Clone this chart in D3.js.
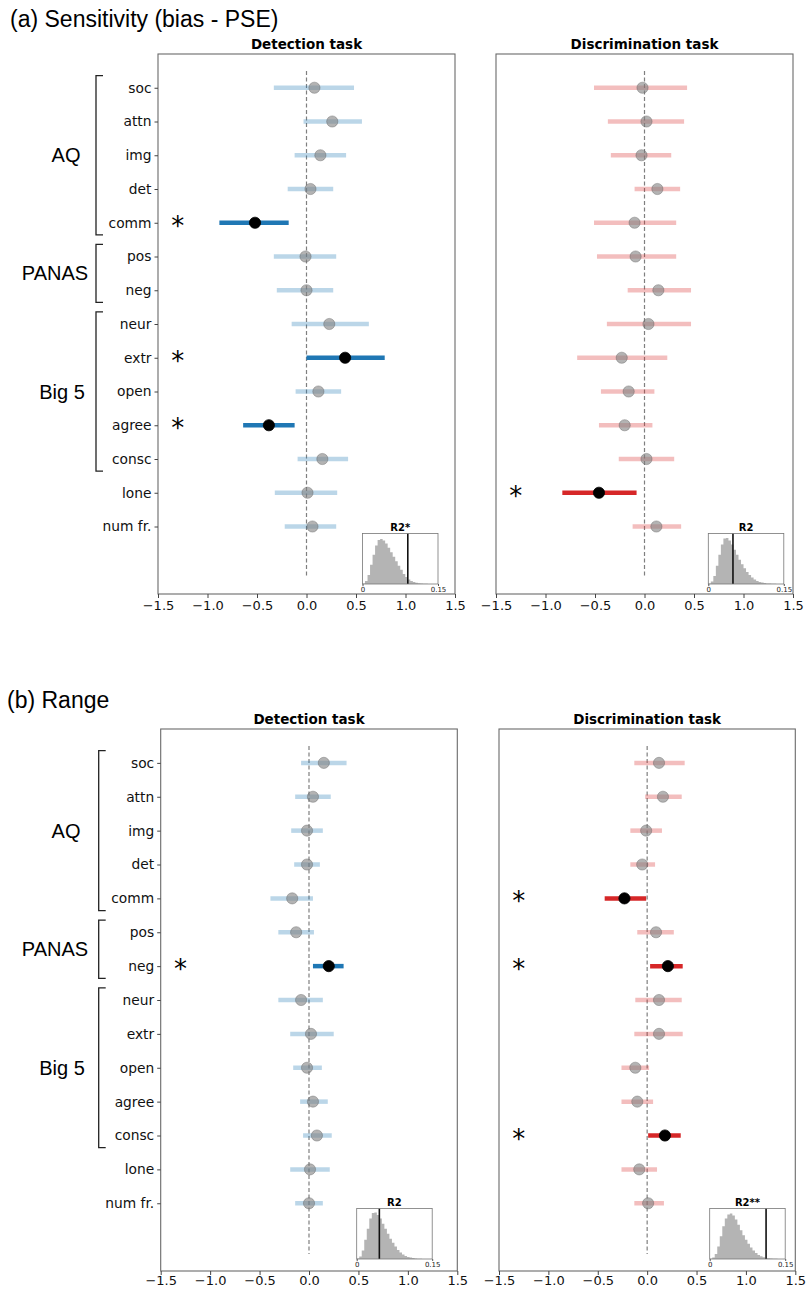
<!DOCTYPE html>
<html>
<head>
<meta charset="utf-8">
<script src="https://cdn.jsdelivr.net/npm/d3@7"></script>
<style>
  body { margin: 0; background: #fff; }
  svg { display: block; }
</style>
</head>
<body>
<svg id="chart" width="811" height="1289"></svg>
<script>
// ---- data ----
var traits = ["soc", "attn", "img", "det", "comm", "pos", "neg", "neur", "extr", "open", "agree", "consc", "lone", "num fr."];

var groupNames = ["AQ", "PANAS", "Big 5"];
var groupFirst = [0, 5, 7];
var groupLast = [4, 6, 11];

var xTicks = [-1.5, -1.0, -0.5, 0.0, 0.5, 1.0, 1.5];

// (a) sensitivity, detection task
var detA_est = [0.08, 0.26, 0.14, 0.04, -0.52, -0.01, 0.00, 0.23, 0.39, 0.12, -0.38, 0.16, 0.01, 0.06];
var detA_lo  = [-0.33, -0.03, -0.12, -0.19, -0.88, -0.33, -0.30, -0.15, 0.00, -0.11, -0.64, -0.09, -0.32, -0.22];
var detA_hi  = [0.48, 0.56, 0.40, 0.27, -0.18, 0.30, 0.27, 0.63, 0.79, 0.35, -0.12, 0.42, 0.31, 0.30];
var detA_sig = [0, 0, 0, 0, 1, 0, 0, 0, 1, 0, 1, 0, 0, 0];

// (a) sensitivity, discrimination task
var disA_est = [-0.02, 0.02, -0.03, 0.13, -0.10, -0.09, 0.14, 0.04, -0.23, -0.16, -0.20, 0.02, -0.46, 0.12];
var disA_lo  = [-0.51, -0.37, -0.34, -0.10, -0.51, -0.48, -0.17, -0.38, -0.68, -0.44, -0.46, -0.26, -0.83, -0.12];
var disA_hi  = [0.43, 0.40, 0.27, 0.36, 0.32, 0.32, 0.47, 0.47, 0.23, 0.10, 0.08, 0.30, -0.08, 0.37];
var disA_sig = [0, 0, 0, 0, 0, 0, 0, 0, 0, 0, 0, 0, 1, 0];

// (b) range, detection task
var detB_est = [0.15, 0.04, -0.02, -0.02, -0.17, -0.13, 0.20, -0.08, 0.02, -0.02, 0.04, 0.08, 0.01, 0.00];
var detB_lo  = [-0.08, -0.14, -0.18, -0.15, -0.39, -0.31, 0.04, -0.31, -0.19, -0.16, -0.09, -0.06, -0.19, -0.14];
var detB_hi  = [0.38, 0.22, 0.14, 0.11, 0.04, 0.05, 0.35, 0.14, 0.25, 0.13, 0.19, 0.23, 0.21, 0.14];
var detB_sig = [0, 0, 0, 0, 0, 0, 1, 0, 0, 0, 0, 0, 0, 0];

// (b) range, discrimination task
var disB_est = [0.12, 0.16, -0.01, -0.05, -0.23, 0.09, 0.21, 0.12, 0.12, -0.12, -0.10, 0.18, -0.08, 0.01];
var disB_lo  = [-0.13, -0.02, -0.17, -0.17, -0.43, -0.10, 0.03, -0.12, -0.13, -0.26, -0.26, 0.01, -0.26, -0.13];
var disB_hi  = [0.38, 0.35, 0.15, 0.08, -0.01, 0.27, 0.36, 0.35, 0.36, 0.02, 0.06, 0.34, 0.10, 0.17];
var disB_sig = [0, 0, 0, 0, 1, 0, 1, 0, 0, 0, 0, 1, 0, 0];

// R2 permutation histograms (30 bins over 0 - 0.15, relative height) and observed R2
var histEdges = [0, 0.15];
var histA_det = [0.01, 0.06, 0.18, 0.38, 0.58, 0.76, 0.87, 0.89, 0.86, 0.80, 0.72, 0.63, 0.54, 0.45, 0.36, 0.28, 0.20, 0.14, 0.09, 0.06, 0.04, 0.025, 0.015, 0.01, 0.006, 0.004, 0.002, 0.001, 0, 0];
var histA_dis = [0.01, 0.05, 0.16, 0.36, 0.58, 0.78, 0.90, 0.91, 0.86, 0.78, 0.68, 0.58, 0.48, 0.39, 0.31, 0.24, 0.18, 0.13, 0.09, 0.06, 0.04, 0.03, 0.02, 0.012, 0.008, 0.005, 0.003, 0.002, 0.001, 0];
var histB_det = [0.01, 0.05, 0.17, 0.38, 0.60, 0.80, 0.91, 0.92, 0.87, 0.80, 0.70, 0.60, 0.50, 0.40, 0.32, 0.25, 0.18, 0.13, 0.09, 0.06, 0.04, 0.028, 0.018, 0.012, 0.007, 0.004, 0.002, 0.001, 0, 0];
var histB_dis = [0.005, 0.03, 0.10, 0.25, 0.45, 0.65, 0.80, 0.88, 0.90, 0.86, 0.78, 0.68, 0.57, 0.47, 0.38, 0.30, 0.23, 0.17, 0.12, 0.08, 0.055, 0.035, 0.022, 0.013, 0.008, 0.005, 0.003, 0.001, 0, 0];
var r2Obs = [0.090, 0.049, 0.045, 0.112];
var r2Titles = ["R2*", "R2", "R2", "R2**"];

var panelTitles = ["Detection task", "Discrimination task", "Detection task", "Discrimination task"];
var figTitles = ["(a) Sensitivity (bias - PSE)", "(b) Range"];

// ---- layout ----
var BLUE = "#1f77b4", RED = "#d62728";
var svg = d3.select("#chart");

var panels = [
  {left: 158, right: 455, top: 54, bottom: 594, insetX: 362.5, insetY: 533.5, color: BLUE, pad: 3,
   est: detA_est, lo: detA_lo, hi: detA_hi, sig: detA_sig, hist: histA_det, groups: true},
  {left: 496, right: 793, top: 54, bottom: 594, insetX: 708.3, insetY: 533.5, color: RED, pad: 3,
   est: disA_est, lo: disA_lo, hi: disA_hi, sig: disA_sig, hist: histA_dis, groups: false},
  {left: 160.7, right: 457.3, top: 729, bottom: 1271, insetX: 356.7, insetY: 1208.5, color: BLUE, pad: 0.5,
   est: detB_est, lo: detB_lo, hi: detB_hi, sig: detB_sig, hist: histB_det, groups: true},
  {left: 499, right: 795.3, top: 729, bottom: 1271, insetX: 709.7, insetY: 1208.5, color: RED, pad: 0.5,
   est: disB_est, lo: disB_lo, hi: disB_hi, sig: disB_sig, hist: histB_dis, groups: false}
];

// figure titles
svg.append("text").attr("x", 10).attr("y", 27)
  .attr("font-family", "Liberation Sans, Arial, sans-serif").attr("font-size", 23)
  .text(figTitles[0]);
svg.append("text").attr("x", 7).attr("y", 708)
  .attr("font-family", "Liberation Sans, Arial, sans-serif").attr("font-size", 23)
  .text(figTitles[1]);

function drawPanel(p, k) {
  var x = d3.scaleLinear().domain([-1.5, 1.5]).range([p.left, p.right]);
  var y = d3.scaleLinear().domain([-1, 15]).range([p.top, p.bottom]);
  var rows = d3.range(traits.length);

  var g = svg.append("g");

  // title
  g.append("text")
    .attr("x", (p.left + p.right) / 2).attr("y", p.top - 5)
    .attr("text-anchor", "middle")
    .attr("font-family", "DejaVu Sans, sans-serif").attr("font-weight", "bold").attr("font-size", 13.5)
    .text(panelTitles[k]);

  // zero line
  g.append("line")
    .attr("x1", x(0)).attr("x2", x(0))
    .attr("y1", y(-0.5)).attr("y2", y(14.5))
    .attr("stroke", "#7f7f7f").attr("stroke-width", 1.2)
    .attr("stroke-dasharray", "4,2.5");

  // intervals
  g.selectAll(".ci").data(rows).enter().append("line")
    .attr("x1", function (i) { return x(p.lo[i]); })
    .attr("x2", function (i) { return x(p.hi[i]); })
    .attr("y1", function (i) { return y(i); })
    .attr("y2", function (i) { return y(i); })
    .attr("stroke", p.color)
    .attr("stroke-opacity", function (i) { return p.sig[i] ? 1 : 0.3; })
    .attr("stroke-width", 4.5);

  // point estimates
  g.selectAll(".pt").data(rows).enter().append("circle")
    .attr("cx", function (i) { return x(p.est[i]); })
    .attr("cy", function (i) { return y(i); })
    .attr("r", 5.6)
    .attr("fill", function (i) { return p.sig[i] ? "#000" : "#808080"; })
    .attr("fill-opacity", function (i) { return p.sig[i] ? 1 : 0.6; })
    .attr("stroke", function (i) { return p.sig[i] ? "#000" : "#606060"; })
    .attr("stroke-opacity", function (i) { return p.sig[i] ? 1 : 0.5; })
    .attr("stroke-width", 0.8);

  // significance stars
  g.selectAll(".star").data(rows.filter(function (i) { return p.sig[i]; })).enter().append("text")
    .attr("x", x(-1.3)).attr("y", function (i) { return y(i) + 12; })
    .attr("text-anchor", "middle")
    .attr("font-family", "DejaVu Sans, sans-serif").attr("font-size", 26)
    .text("*");

  // frame
  g.append("rect")
    .attr("x", p.left).attr("y", p.top)
    .attr("width", p.right - p.left).attr("height", p.bottom - p.top)
    .attr("fill", "none").attr("stroke", "#6a6a6a").attr("stroke-width", 1.1);

  // x axis
  var xa = g.append("g")
    .attr("transform", "translate(0," + p.bottom + ")")
    .call(d3.axisBottom(x).tickValues(xTicks).tickFormat(d3.format(".1f")).tickSize(4).tickPadding(p.pad));
  xa.select(".domain").remove();
  xa.selectAll("line").attr("stroke", "#444");
  xa.selectAll("text").attr("font-family", "DejaVu Sans, sans-serif").attr("font-size", 13).attr("fill", "#111");

  // y axis (only left panels show labels)
  if (p.groups) {
    var ya = g.append("g")
      .attr("transform", "translate(" + p.left + ",0)")
      .call(d3.axisLeft(y).tickValues(rows).tickFormat(function (i) { return traits[i]; }).tickSize(3.5).tickPadding(3));
    ya.select(".domain").remove();
    ya.selectAll("line").attr("stroke", "#444");
    ya.selectAll("text").attr("font-family", "DejaVu Sans, sans-serif").attr("font-size", 13.8).attr("fill", "#111");

    // group brackets and labels
    var labelX = [66, 55, 62];
    groupNames.forEach(function (name, j) {
      var y0 = y(groupFirst[j] - 0.36), y1 = y(groupLast[j] + 0.36);
      g.append("path")
        .attr("d", "M" + (p.left - 55) + "," + y0 + "H" + (p.left - 62) + "V" + y1 + "H" + (p.left - 55))
        .attr("fill", "none").attr("stroke", "#222").attr("stroke-width", 1.3);
      g.append("text")
        .attr("x", labelX[j]).attr("y", (y0 + y1) / 2 + 7)
        .attr("text-anchor", "middle")
        .attr("font-family", "Liberation Sans, Arial, sans-serif").attr("font-size", 20)
        .text(name);
    });
  }

  // inset histogram of permuted R2
  var iw = 75.5, ih = 50.5;
  var hx = d3.scaleLinear().domain(histEdges).range([p.insetX, p.insetX + iw]);
  var hy = d3.scaleLinear().domain([0, 1]).range([p.insetY + ih, p.insetY]);
  var bw = (histEdges[1] - histEdges[0]) / p.hist.length;
  var steps = p.hist.concat([0]);
  var area = d3.area()
    .curve(d3.curveStepAfter)
    .x(function (d, i) { return hx(i * bw); })
    .y0(hy(0))
    .y1(function (d) { return hy(d); });
  var ig = g.append("g");
  ig.append("rect")
    .attr("x", p.insetX).attr("y", p.insetY).attr("width", iw).attr("height", ih)
    .attr("fill", "#fff");
  ig.append("path")
    .datum(steps)
    .attr("d", area)
    .attr("fill", "#b4b4b4");
  ig.append("line")
    .attr("x1", hx(r2Obs[k])).attr("x2", hx(r2Obs[k]))
    .attr("y1", p.insetY).attr("y2", p.insetY + ih)
    .attr("stroke", "#111").attr("stroke-width", 1.6);
  ig.append("rect")
    .attr("x", p.insetX).attr("y", p.insetY).attr("width", iw).attr("height", ih)
    .attr("fill", "none").attr("stroke", "#777").attr("stroke-width", 0.8);
  ig.append("text")
    .attr("x", p.insetX + iw / 2).attr("y", p.insetY - 3)
    .attr("text-anchor", "middle")
    .attr("font-family", "DejaVu Sans, sans-serif").attr("font-weight", "bold").attr("font-size", 10)
    .text(r2Titles[k]);
  var ia = ig.append("g")
    .attr("transform", "translate(0," + (p.insetY + ih) + ")")
    .call(d3.axisBottom(hx).tickValues(histEdges).tickFormat(function (d) { return d === 0 ? "0" : d3.format(".2f")(d); }).tickSize(2).tickPadding(1));
  ia.select(".domain").remove();
  ia.selectAll("line").attr("stroke", "#555");
  ia.selectAll("text").attr("font-family", "DejaVu Sans, sans-serif").attr("font-size", 7).attr("fill", "#222");
}

panels.forEach(drawPanel);
</script>
</body>
</html>
